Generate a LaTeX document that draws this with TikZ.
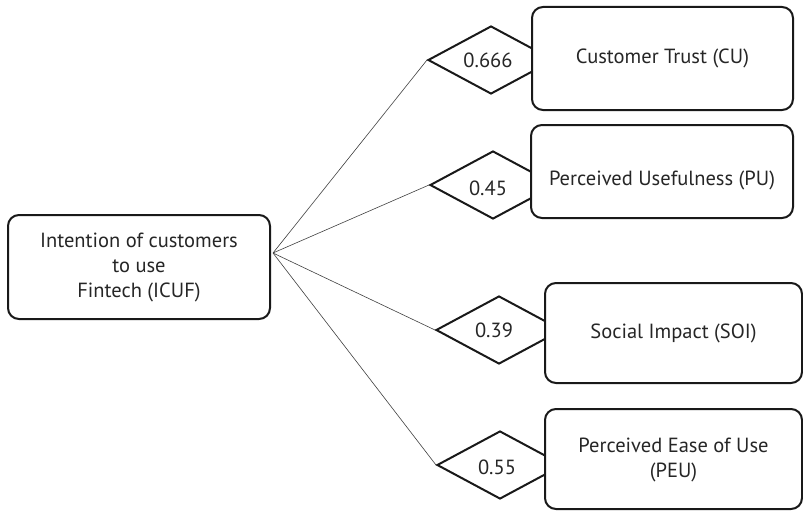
\documentclass[tikz,border=0pt]{standalone}
\usepackage{fontspec}
\setmainfont{PT Sans}
\usetikzlibrary{shapes.geometric}
\begin{document}
\begin{tikzpicture}[x=1pt,y=-1pt,
  lbl/.style={font=\fontsize{20.5}{25}\selectfont, text=black!85, align=center, inner sep=0pt},
  box/.style={draw=black!90, line width=2pt, rounded corners=11pt, fill=white,
    align=center, inner sep=0pt, font=\fontsize{20.5}{25}\selectfont, text=black!85},
  weight/.style={draw=black!90, line width=2pt, diamond, inner sep=0pt,
    minimum width=126pt, minimum height=68pt},
  link/.style={draw=black!75, line width=0.6pt}]
\useasboundingbox (0,0) rectangle (803,511);

% source construct and the point where its paths fan out
\node[box, minimum width=262pt, minimum height=104pt] (icuf) at (139,267)
  {Intention of customers\\to use\\Fintech (ICUF)};
\coordinate (hub) at (273,253);

% weight diamonds (drawn first so the boxes cover their right tips)
\node[weight] (w1) at (491,60) {};
\node[weight] (w2) at (493,185) {};
\node[weight] (w3) at (499,330) {};
\node[weight] (w4) at (500,465) {};

% paths from the hub to each diamond
\draw[link] (hub) -- (w1.west);
\draw[link] (hub) -- (w2.west);
\draw[link] (hub) -- (w3.west);
\draw[link] (hub) -- (w4.west);

% path weights
\node[lbl] (v1) at (488,60) {0.666};
\node[lbl] (v2) at (488,188) {0.45};
\node[lbl] (v3) at (494,330) {0.39};
\node[lbl] (v4) at (497,467) {0.55};

% target constructs
\node[box, minimum width=261pt, minimum height=103pt] (cu) at (662.5,58.5) {};
\node[lbl] (tcu) at (cu.center) {Customer Trust (CU)};
\node[box, minimum width=262pt, minimum height=93pt] (pu) at (662,171.5) {};
\node[lbl] (tpu) at (662,180) {Perceived Usefulness (PU)};
\node[box, minimum width=257pt, minimum height=100pt] (soi) at (673.5,333) {};
\node[lbl] (tsoi) at (soi.center) {Social Impact (SOI)};
\node[box, minimum width=257pt, minimum height=100pt] (peu) at (673.5,459) {};
\node[lbl] (tpeu) at (673.5,460) {Perceived Ease of Use\\(PEU)};
\end{tikzpicture}
\end{document}
